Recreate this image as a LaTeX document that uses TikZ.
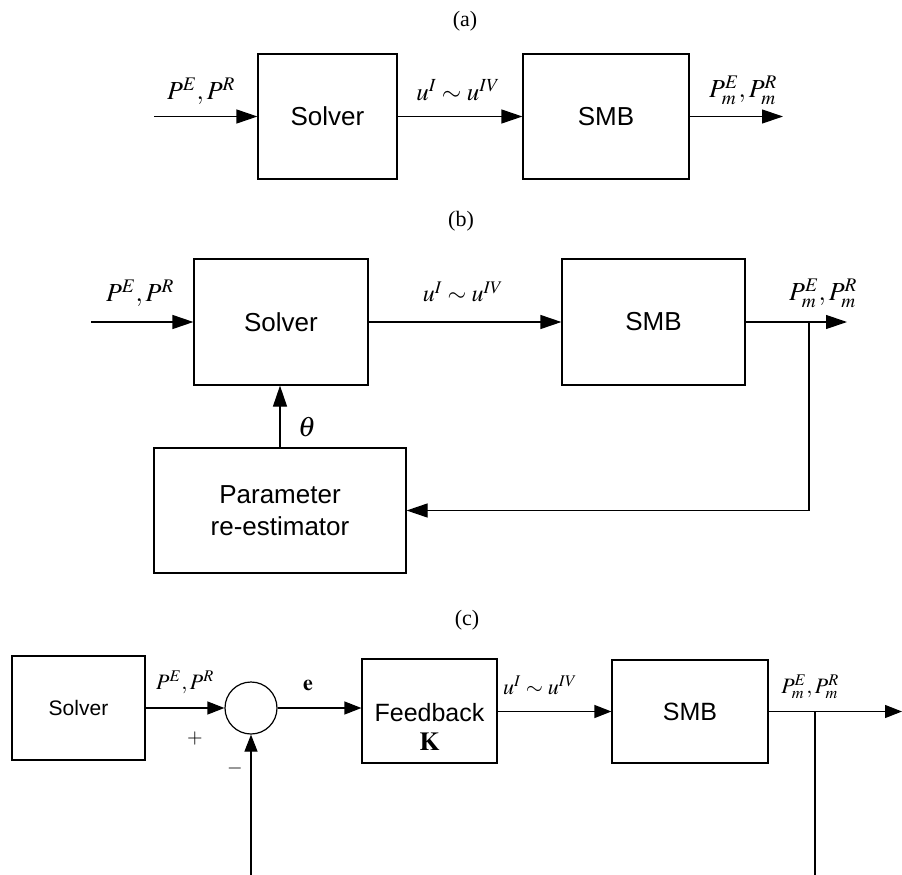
\documentclass[tikz,border=0pt]{standalone}
\usepackage{mathptmx}
\usepackage[no-math]{fontspec}
\setmainfont{Liberation Serif}
\setsansfont{Liberation Sans}
\usetikzlibrary{arrows.meta}
\newcommand\fsz[1]{\fontsize{#1}{#1}\selectfont}
\begin{document}
\begin{tikzpicture}[x=1pt,y=-1pt,
  blk/.style={draw,line width=1.2pt,inner sep=0pt,font=\sffamily},
  ln/.style={line width=1.2pt},
  arr/.style={ln,-{Triangle[length=21pt,width=14pt]}},
  arrc/.style={ln,-{Triangle[length=17pt,width=13pt]}},
  lbl/.style={inner sep=0pt}]
\useasboundingbox (0,0) rectangle (902,875);

% ---------------- (a)
\node[lbl,font=\fsz{22}] (capa) at (465,21) {(a)};
\node[blk,minimum width=139,minimum height=125,font=\sffamily\fsz{26}] (sa) at (327.5,116.5) {Solver};
\node[blk,minimum width=166,minimum height=125,font=\sffamily\fsz{26}] (ma) at (606,116.5) {SMB};
\coordinate (ina) at (154,116.5);
\coordinate (outa) at (783,116.5);
\draw[arr] (ina) -- (sa);
\draw[arr] (sa) -- (ma);
\draw[arr] (ma) -- (outa);
\node[lbl,font=\fsz{26}] (pa) at (201,91) {$P^{E},P^{R}$};
\node[lbl,font=\fsz{25}] (ua) at (458,90) {$u^{I}\sim u^{IV}$};
\node[lbl,font=\fsz{26}] (pma) at (743,90) {$P_m^{E},P_m^{R}$};

% ---------------- (b)
\node[lbl,font=\fsz{22}] (capb) at (461,221) {(b)};
\node[blk,minimum width=174,minimum height=126,font=\sffamily\fsz{26}] (sb) at (281,322) {Solver};
\node[blk,minimum width=183,minimum height=126,font=\sffamily\fsz{26}] (mb) at (653.5,322) {SMB};
\node[blk,minimum width=252,minimum height=125,align=center,font=\sffamily\fontsize{26}{32}\selectfont] (pb) at (280,510.5) {Parameter\\re-estimator};
\coordinate (inb) at (91,322);
\coordinate (outb) at (847,322);
\coordinate (brb) at (809,322);
\draw[arr] (inb) -- (sb);
\draw[arr] (sb) -- (mb);
\draw[arr] (mb) -- (outb);
\draw[arr] (brb) |- (pb.east);
\draw[arr] (pb.north) -- (pb.north |- sb.south);
\node[lbl,font=\fsz{26}] (pbl) at (140,293) {$P^{E},P^{R}$};
\node[lbl,font=\fsz{24}] (ub) at (463,292) {$u^{I}\sim u^{IV}$};
\node[lbl,font=\fsz{26}] (pmb) at (823,293) {$P_m^{E},P_m^{R}$};
\node[lbl,font=\fsz{28}] (th) at (307,427) {$\theta$};

% ---------------- (c)
\node[lbl,font=\fsz{22}] (capc) at (467,620) {(c)};
\node[blk,minimum width=133,minimum height=104,font=\sffamily\fsz{21}] (sc) at (78.5,708) {Solver};
\node[draw,ln,circle,minimum size=52,inner sep=0pt] (sum) at (251,708) {};
\node[blk,minimum width=135,minimum height=104] (fb) at (429.5,711) {};
\node[lbl,font=\sffamily\fsz{25}] (fbt) at (429.5,713) {Feedback};
\node[lbl,font=\fsz{26}] (kk) at (429.5,742) {$\mathbf{K}$};
\node[blk,minimum width=156,minimum height=103,font=\sffamily\fsz{25}] (mc) at (690,711.5) {SMB};
\coordinate (outc) at (902,711.5);
\coordinate (brc) at (815,711.5);
\coordinate (brcd) at (815,875);
\coordinate (fbin) at (251,875);
\draw[arrc] (sc) -- (sum);
\draw[arrc] (sum.east) -- (sum.east -| fb.west);
\draw[arrc] (fb.east |- mc.west) -- (mc.west);
\draw[arrc] (mc) -- (outc);
\draw[ln] (brc) -- (brcd);
\draw[arrc] (fbin) -- (sum.south);
\node[lbl,font=\fsz{22}] (pc) at (185,682) {$P^{E},P^{R}$};
\node[lbl,font=\fsz{20}] (plus) at (195,738) {$+$};
\node[lbl,font=\fsz{20}] (minus) at (235,768) {$-$};
\node[lbl,font=\fsz{22}] (ee) at (308,685) {$\mathbf{e}$};
\node[lbl,font=\fsz{22}] (uc) at (540,685) {$u^{I}\sim u^{IV}$};
\node[lbl,font=\fsz{22}] (pmc) at (810,687) {$P_m^{E},P_m^{R}$};
\end{tikzpicture}
\end{document}
